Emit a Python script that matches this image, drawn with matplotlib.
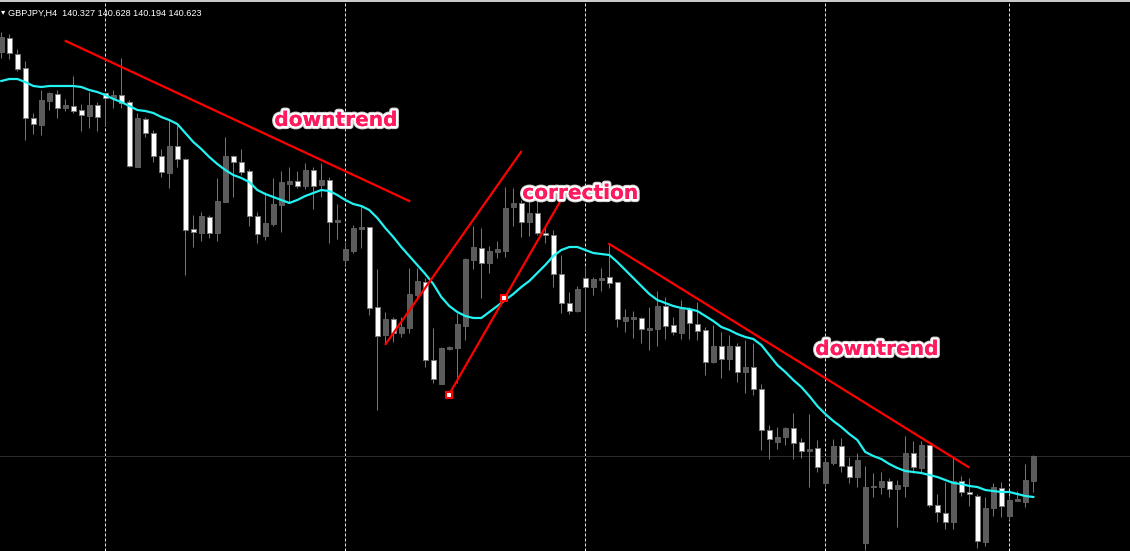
import matplotlib
matplotlib.use("Agg")
import matplotlib.pyplot as plt
import matplotlib.patheffects as pe
from matplotlib.lines import Line2D
import numpy as np

symbol_label = "GBPJPY,H4"
quote_label = "140.327 140.628 140.194 140.623"

opens = [144.66, 144.80, 144.64, 144.50, 144.00, 143.93, 144.17, 144.24, 144.10, 144.12,
         144.08, 144.02, 144.13, 144.25, 144.20, 144.23, 144.16, 143.51, 143.99, 143.85,
         143.62, 143.45, 143.72, 143.59, 142.89, 142.85, 143.01, 142.85, 143.16, 143.62,
         143.56, 143.47, 143.02, 142.82, 142.94, 143.13, 143.34, 143.37, 143.32, 143.48,
         143.33, 143.38, 142.96, 142.58, 142.67, 142.89, 142.91, 142.11, 141.83, 141.99,
         141.85, 141.90, 142.23, 142.36, 141.58, 141.34, 141.69, 141.70, 141.92, 142.58,
         142.70, 142.55, 142.66, 142.67, 143.11, 143.15, 142.96, 143.05, 142.85, 142.83,
         142.44, 142.15, 142.07, 142.40, 142.31, 142.38, 142.41, 142.36, 141.97, 141.99,
         142.00, 141.88, 141.89, 142.12, 141.93, 141.85, 142.09, 141.94, 141.88, 141.56,
         141.72, 141.59, 141.72, 141.46, 141.51, 141.29, 140.88, 140.76, 140.81, 140.90,
         140.76, 140.67, 140.70, 140.35, 140.55, 140.72, 140.52, 140.41, 139.75, 140.31,
         140.31, 140.37, 140.29, 140.32, 140.65, 140.50, 140.73, 140.13, 140.05, 139.96,
         140.37, 140.26, 140.22, 139.76, 140.10, 140.30, 140.02, 140.17, 140.16, 140.37]
highs = [144.86, 144.84, 144.69, 144.57, 144.05, 144.28, 144.26, 144.28, 144.19, 144.42,
         144.14, 144.26, 144.16, 144.25, 144.28, 144.60, 144.18, 144.05, 144.01, 143.88,
         143.69, 143.99, 143.93, 143.60, 143.03, 143.06, 143.03, 143.40, 143.81, 143.63,
         143.69, 143.49, 143.06, 143.26, 143.40, 143.47, 143.51, 143.47, 143.55, 143.51,
         143.55, 143.41, 143.14, 142.76, 142.93, 143.13, 142.91, 142.49, 142.06, 142.01,
         142.01, 142.50, 142.50, 142.40, 141.90, 141.71, 141.72, 142.05, 142.60, 142.92,
         142.90, 142.72, 142.77, 143.31, 143.30, 143.18, 143.30, 143.18, 142.92, 142.88,
         142.63, 142.26, 142.32, 142.51, 142.41, 142.50, 142.74, 142.36, 142.09, 142.07,
         142.01, 142.11, 142.27, 142.21, 142.01, 142.18, 142.11, 142.16, 141.91, 141.93,
         141.86, 141.83, 141.75, 141.78, 141.75, 141.34, 140.93, 140.91, 140.91, 141.05,
         140.80, 141.04, 140.78, 140.60, 140.79, 140.80, 140.61, 140.65, 140.52, 140.45,
         140.46, 140.40, 140.38, 140.82, 140.77, 140.77, 140.73, 140.24, 140.36, 140.61,
         140.42, 140.40, 140.24, 140.21, 140.35, 140.36, 140.23, 140.27, 140.54, 140.63]
lows = [144.60, 144.59, 144.47, 143.78, 143.84, 143.83, 144.08, 144.00, 144.07, 144.05,
        143.87, 143.90, 143.87, 143.92, 144.10, 144.10, 143.51, 143.51, 143.81, 143.56,
        143.41, 143.30, 143.51, 142.43, 142.71, 142.77, 142.80, 142.77, 143.16, 143.21,
        143.43, 142.92, 142.75, 142.78, 142.92, 142.86, 143.15, 143.30, 143.29, 143.09,
        143.21, 142.75, 142.79, 142.53, 142.65, 142.70, 142.03, 141.08, 141.74, 141.76,
        141.81, 141.85, 142.21, 141.51, 141.35, 141.34, 141.68, 141.35, 141.78, 142.49,
        142.20, 142.45, 142.60, 142.61, 142.92, 142.81, 142.82, 142.83, 142.75, 142.31,
        142.05, 142.04, 142.06, 141.88, 142.23, 142.27, 142.30, 141.91, 141.86, 141.80,
        141.75, 141.68, 141.72, 141.79, 141.83, 141.79, 141.79, 141.78, 141.43, 141.55,
        141.40, 141.48, 141.36, 141.25, 141.23, 140.68, 140.59, 140.69, 140.73, 140.59,
        140.60, 140.31, 140.46, 140.31, 140.53, 140.46, 140.35, 140.31, 139.68, 140.21,
        140.24, 140.21, 139.91, 140.21, 140.45, 140.46, 140.11, 139.96, 139.89, 139.89,
        140.22, 140.12, 139.70, 139.72, 140.02, 140.01, 139.98, 140.17, 140.11, 140.26]
closes = [144.81, 144.65, 144.49, 144.00, 143.94, 144.18, 144.25, 144.10, 144.13, 144.07,
          144.03, 144.13, 144.01, 144.20, 144.23, 144.15, 143.52, 144.00, 143.85, 143.62,
          143.46, 143.72, 143.59, 142.88, 142.86, 143.02, 142.85, 143.17, 143.62, 143.56,
          143.46, 143.02, 142.84, 142.95, 143.14, 143.36, 143.37, 143.32, 143.48, 143.32,
          143.38, 142.96, 142.98, 142.69, 142.90, 142.91, 142.10, 141.82, 141.99, 141.85,
          141.91, 142.24, 142.37, 141.58, 141.39, 141.70, 141.71, 141.94, 142.59, 142.71,
          142.55, 142.67, 142.69, 143.10, 143.15, 142.96, 143.05, 142.85, 142.83, 142.44,
          142.15, 142.07, 142.29, 142.31, 142.39, 142.40, 142.35, 141.99, 142.01, 142.01,
          141.89, 141.90, 142.12, 141.92, 141.86, 142.09, 141.95, 141.87, 141.56, 141.72,
          141.59, 141.72, 141.46, 141.51, 141.29, 140.88, 140.79, 140.81, 140.90, 140.75,
          140.67, 140.69, 140.51, 140.56, 140.72, 140.52, 140.41, 140.58, 140.31, 140.32,
          140.37, 140.29, 140.33, 140.65, 140.51, 140.73, 140.13, 140.06, 139.96, 140.37,
          140.26, 140.24, 139.77, 140.10, 140.31, 140.12, 140.18, 140.19, 140.38, 140.62]
ma_values = [144.37, 144.39, 144.39, 144.36, 144.32, 144.31, 144.32, 144.32, 144.32, 144.32,
             144.31, 144.28, 144.26, 144.23, 144.19, 144.16, 144.12, 144.08, 144.07, 144.05,
             144.01, 143.98, 143.94, 143.85, 143.76, 143.69, 143.61, 143.54, 143.48, 143.43,
             143.40, 143.36, 143.28, 143.24, 143.21, 143.18, 143.15, 143.18, 143.22, 143.25,
             143.28, 143.27, 143.23, 143.18, 143.14, 143.12, 143.08, 143.00, 142.90, 142.81,
             142.71, 142.62, 142.53, 142.44, 142.34, 142.21, 142.12, 142.06, 142.02, 142.00,
             142.00, 142.06, 142.12, 142.18, 142.24, 142.31, 142.37, 142.45, 142.53, 142.62,
             142.68, 142.71, 142.71, 142.68, 142.65, 142.64, 142.63, 142.56, 142.48, 142.40,
             142.32, 142.24, 142.18, 142.15, 142.12, 142.10, 142.09, 142.07, 142.02, 141.97,
             141.91, 141.88, 141.84, 141.81, 141.79, 141.73, 141.63, 141.53, 141.46, 141.38,
             141.31, 141.22, 141.12, 141.04, 140.97, 140.91, 140.84, 140.78, 140.66, 140.62,
             140.59, 140.54, 140.50, 140.47, 140.46, 140.45, 140.43, 140.41, 140.38, 140.35,
             140.34, 140.32, 140.31, 140.28, 140.27, 140.26, 140.26, 140.24, 140.22, 140.21]

grid_bars = [13, 43, 73, 103, 126]

downtrend1_x = [8.05, 51.0]
downtrend1_p = [144.77, 143.17]
correction_upper_x = [48.05, 64.96]
correction_upper_p = [141.74, 143.66]
correction_lower_x = [55.93, 69.96]
correction_lower_p = [141.23, 143.18]
anchor_x = [55.93, 62.88]
anchor_p = [141.23, 142.20]
downtrend2_x = [76.0, 120.88]
downtrend2_p = [142.74, 140.51]

label_texts = ["downtrend", "correction", "downtrend"]
label_x = [41.84, 72.4, 109.46]
label_p = [143.92, 143.19, 141.63]

W, H = 1130, 551
fig = plt.figure(figsize=(W / 100, H / 100), dpi=100, facecolor="black")
ax = fig.add_axes([0, 0, 1, 1])
ax.set_facecolor("black")
ax.set_axis_off()

px = 1.0 * 72 / 100  # one pixel in points

o = np.array(opens); h = np.array(highs); l = np.array(lows); c = np.array(closes)
idx = np.arange(len(o))

# grid (dashed vertical)
plt.rcParams["lines.scale_dashes"] = False
for gb in grid_bars:
    ax.axvline(gb, color="#e0e0e0", lw=px, dashes=(3 * px, 2 * px), zorder=1)

# bid line
ax.axhline(c[-1], color="#2c2c2c", lw=px, zorder=1)

# wicks
ax.vlines(idx, l, h, color="#747474", lw=px, zorder=2)

# bodies
bull = c > o
bottoms = np.minimum(o, c)
heights = np.maximum(np.abs(c - o), 0.012)
ax.bar(idx[bull], heights[bull], bottom=bottoms[bull], width=0.56,
       color="#5c5c5c", edgecolor="#5c5c5c", lw=px, zorder=3)
ax.bar(idx[~bull], heights[~bull], bottom=bottoms[~bull], width=0.56,
       color="white", edgecolor="#7a7a7a", lw=px, zorder=3)

# moving average
ax.plot(idx, ma_values, color="#22f2f2", lw=1.6, zorder=4, solid_joinstyle="round")

# trend lines
red = "#ff0000"
for xs, ps in [(downtrend1_x, downtrend1_p), (correction_upper_x, correction_upper_p),
               (correction_lower_x, correction_lower_p), (downtrend2_x, downtrend2_p)]:
    ax.plot(xs, ps, color=red, lw=1.6, zorder=5)
ax.plot(anchor_x, anchor_p, ls="none", marker="s", ms=5, mfc="white", mec=red, mew=1.5, zorder=6)

# labels
for t, x, p in zip(label_texts, label_x, label_p):
    ax.text(x, p, t, ha="center", va="baseline", fontsize=14.5, fontweight="bold",
            family="DejaVu Sans", color="#ff1a5e", zorder=7,
            path_effects=[pe.withStroke(linewidth=4.5, foreground="#d0d0d0"),
                          pe.withStroke(linewidth=3, foreground="white"), pe.Normal()])

ax.set_xlim((0 - 1.3) / 8, (W - 1.3) / 8)
ax.set_ylim(145.18 - H / 100, 145.18)

# header
fig.text(8 / W, 1 - 15.5 / H, symbol_label + "  " + quote_label, color="white",
         fontsize=6.6, family="Liberation Sans", va="baseline", ha="left")
fig.text(0.5 / W, 1 - 14 / H, "\u25BE", color="white", fontsize=6, va="baseline", ha="left")
fig.add_artist(Line2D([0, 1], [1 - 1 / H, 1 - 1 / H], transform=fig.transFigure,
                      color="#d0d0d0", lw=1.4))

fig.savefig("out.png", dpi=100, facecolor="black")
